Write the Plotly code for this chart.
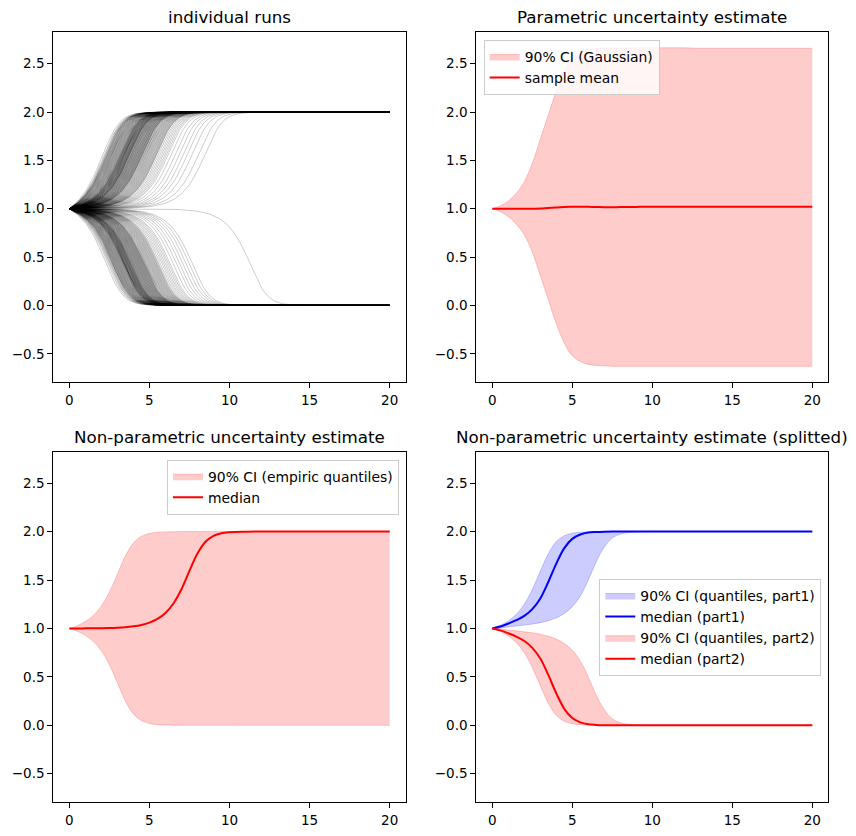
import numpy as np
import plotly.graph_objects as go

# ---------------- data ----------------
# transition times of the individual runs (time at which a run is half-way to its final state)
up_switch = [1.9, 2.0, 2.05, 2.1, 2.12, 2.15, 2.18, 2.2,
             2.22, 2.25, 2.28, 2.3, 2.33, 2.36, 2.38, 2.41, 2.44, 2.47, 2.5, 2.52, 2.55, 2.58, 2.6,
             2.63, 2.66, 2.68, 2.71, 2.74, 2.77, 2.79, 2.82, 2.85, 2.87, 2.9, 2.92, 2.95, 2.97, 3.0,
             3.02, 3.03, 3.05, 3.07, 3.08, 3.1, 3.12, 3.13, 3.15, 3.17, 3.18, 3.2, 3.22, 3.23, 3.25,
             3.27, 3.28, 3.3, 3.32, 3.33, 3.35, 3.37, 3.38, 3.4, 3.42, 3.43, 3.45, 3.47, 3.48, 3.5,
             3.52, 3.53, 3.55, 3.56, 3.57, 3.58, 3.6,
             3.62, 3.64, 3.66, 3.69, 3.71, 3.73, 3.75, 3.77, 3.8, 3.82, 3.84, 3.86, 3.88, 3.91, 3.93,
             3.95, 3.97, 4.0, 4.02, 4.04, 4.06, 4.08, 4.11, 4.13, 4.15, 4.17, 4.2, 4.22, 4.24, 4.26,
             4.28, 4.31, 4.33, 4.35, 4.37, 4.39, 4.4,
             4.44, 4.48, 4.52, 4.56, 4.6, 4.64, 4.68, 4.72, 4.76, 4.8, 4.84, 4.88, 4.92, 4.96, 5.0,
             5.04, 5.08, 5.12, 5.16, 5.2, 5.24, 5.27, 5.3,
             5.4, 5.5, 5.6, 5.7, 5.8, 5.9, 6.0,
             6.2, 6.45, 6.7, 6.95, 7.2, 7.5, 7.9, 8.3]
down_switch = [2.1, 2.2, 2.28, 2.33, 2.38, 2.42, 2.46,
               2.5, 2.52, 2.54, 2.57, 2.59, 2.61, 2.64, 2.66, 2.68, 2.71, 2.73, 2.75, 2.78, 2.8, 2.82,
               2.85, 2.87, 2.89, 2.92, 2.94, 2.96, 2.99, 3.01, 3.03, 3.06, 3.08, 3.1, 3.13, 3.15,
               3.17, 3.18, 3.2, 3.21, 3.23, 3.24, 3.26, 3.27, 3.29, 3.3, 3.32, 3.33, 3.35, 3.36, 3.38,
               3.39, 3.41, 3.42, 3.44, 3.45, 3.47, 3.48, 3.5, 3.51, 3.53, 3.54, 3.56, 3.57, 3.59, 3.6,
               3.62, 3.63, 3.65, 3.66, 3.68, 3.7,
               3.72, 3.74, 3.77, 3.79, 3.81, 3.83, 3.86, 3.88, 3.9, 3.92, 3.95, 3.97, 3.99, 4.01, 4.04,
               4.06, 4.08, 4.1, 4.13, 4.15, 4.17, 4.19, 4.22, 4.24, 4.26, 4.28, 4.31, 4.33, 4.35, 4.37,
               4.4, 4.42, 4.44, 4.46, 4.48, 4.5,
               4.54, 4.58, 4.62, 4.66, 4.7, 4.74, 4.78, 4.82, 4.86, 4.9, 4.94, 4.98, 5.02, 5.06, 5.1,
               5.14, 5.18, 5.22, 5.26, 5.3, 5.35, 5.4,
               5.5, 5.6, 5.7, 5.8, 5.9, 6.0, 6.1,
               6.3, 6.5, 6.7, 6.9, 7.1, 7.3, 7.5, 11.1]
start_level = 1.0
up_level = 2.0
down_level = 0.0

t_band = [0, 0.5, 1, 1.5, 2, 2.5, 3, 3.5, 4, 4.5, 5, 5.5, 6, 6.5, 7, 7.5, 8, 8.5, 9, 9.5, 10,
          11, 12, 13, 14, 15, 16, 17, 18, 19, 20]

gauss_hi = [1.00, 1.03, 1.08, 1.16, 1.28, 1.47, 1.72, 1.97, 2.22, 2.43, 2.57, 2.63, 2.65, 2.655, 2.66,
            2.66, 2.66, 2.66, 2.665, 2.665, 2.665,
            2.665, 2.665, 2.66, 2.66, 2.66, 2.66, 2.66, 2.66, 2.66, 2.66]
gauss_lo = [1.00, 0.97, 0.92, 0.84, 0.73, 0.55, 0.31, 0.06, -0.19, -0.39, -0.52, -0.58, -0.61, -0.62,
            -0.625, -0.63, -0.63, -0.63, -0.63, -0.63, -0.63,
            -0.63, -0.63, -0.63, -0.63, -0.63, -0.63, -0.63, -0.63, -0.63, -0.63]
gauss_mean = [1.0, 1.0, 1.0, 1.0, 1.0, 1.0, 1.003, 1.008, 1.012, 1.018, 1.02, 1.021, 1.02, 1.018,
              1.016, 1.016, 1.017, 1.018, 1.019, 1.02, 1.02,
              1.02, 1.02, 1.02, 1.02, 1.02, 1.02, 1.02, 1.02, 1.02, 1.02]

np_hi = [1.0, 1.029, 1.071, 1.133, 1.231, 1.374, 1.56, 1.748, 1.882, 1.951, 1.981, 1.993, 1.997,
         1.999, 2.0, 2.0, 2.0, 2.0, 2.0, 2.0, 2.0,
         2.0, 2.0, 2.0, 2.0, 2.0, 2.0, 2.0, 2.0, 2.0, 2.0]
np_lo = [1.0, 0.971, 0.929, 0.867, 0.769, 0.626, 0.44, 0.252, 0.118, 0.049, 0.019, 0.007, 0.003,
         0.001, 0.0, 0.0, 0.0, 0.0, 0.0, 0.0, 0.0,
         0.0, 0.0, 0.0, 0.0, 0.0, 0.0, 0.0, 0.0, 0.0, 0.0]
np_med = [1.0, 1.0, 1.001, 1.002, 1.003, 1.005, 1.008, 1.013, 1.022, 1.036, 1.06, 1.098, 1.16, 1.258,
          1.405, 1.594, 1.773, 1.895, 1.957, 1.984, 1.994,
          1.999, 2.0, 2.0, 2.0, 2.0, 2.0, 2.0, 2.0, 2.0, 2.0]

p1_hi = [1.0, 1.032, 1.078, 1.146, 1.251, 1.402, 1.591, 1.772, 1.896, 1.958, 1.984, 1.994, 1.998,
         1.999, 2.0, 2.0, 2.0, 2.0, 2.0, 2.0, 2.0,
         2.0, 2.0, 2.0, 2.0, 2.0, 2.0, 2.0, 2.0, 2.0, 2.0]
p1_lo = [1.0, 1.005, 1.015, 1.025, 1.035, 1.045, 1.06, 1.08, 1.11, 1.155, 1.225, 1.335, 1.50, 1.69,
         1.84, 1.933, 1.974, 1.99, 1.996, 1.999, 2.0,
         2.0, 2.0, 2.0, 2.0, 2.0, 2.0, 2.0, 2.0, 2.0, 2.0]
p1_med = [1.0, 1.02, 1.05, 1.085, 1.13, 1.20, 1.31, 1.48, 1.67, 1.83, 1.925, 1.97, 1.99, 1.996,
          1.999, 2.0, 2.0, 2.0, 2.0, 2.0, 2.0,
          2.0, 2.0, 2.0, 2.0, 2.0, 2.0, 2.0, 2.0, 2.0, 2.0]

p2_hi = [1.0, 0.995, 0.985, 0.975, 0.965, 0.955, 0.94, 0.92, 0.89, 0.845, 0.775, 0.665, 0.50, 0.31,
         0.16, 0.067, 0.026, 0.01, 0.004, 0.001, 0.0,
         0.0, 0.0, 0.0, 0.0, 0.0, 0.0, 0.0, 0.0, 0.0, 0.0]
p2_lo = [1.0, 0.968, 0.922, 0.854, 0.749, 0.598, 0.409, 0.228, 0.104, 0.042, 0.016, 0.006, 0.002,
         0.001, 0.0, 0.0, 0.0, 0.0, 0.0, 0.0, 0.0,
         0.0, 0.0, 0.0, 0.0, 0.0, 0.0, 0.0, 0.0, 0.0, 0.0]
p2_med = [1.0, 0.98, 0.95, 0.915, 0.87, 0.80, 0.69, 0.52, 0.33, 0.17, 0.075, 0.03, 0.01, 0.004,
          0.001, 0.0, 0.0, 0.0, 0.0, 0.0, 0.0,
          0.0, 0.0, 0.0, 0.0, 0.0, 0.0, 0.0, 0.0, 0.0, 0.0]

titles = ["individual runs", "Parametric uncertainty estimate",
          "Non-parametric uncertainty estimate", "Non-parametric uncertainty estimate (splitted)"]
x_ticks = [0, 5, 10, 15, 20]
y_ticks = [-0.5, 0.0, 0.5, 1.0, 1.5, 2.0, 2.5]

# ---------------- figure ----------------
FONT = "DejaVu Sans"
W, H = 856, 836
t_runs = np.linspace(0, 20, 201)


def run_curve(t_half, final):
    # bistable switching profile starting at start_level
    g = np.exp(t_runs - t_half) / np.sqrt(3.0) * (1.0 - np.exp(-1.5 * t_runs))
    u = g / np.sqrt(1.0 + g * g)
    return start_level + (final - start_level) * u


fig = go.Figure()

RUN_LINE = dict(color="rgba(0,0,0,0.4)", width=0.5)
for th in up_switch:
    fig.add_trace(go.Scatter(x=t_runs, y=run_curve(th, up_level), mode="lines", line=RUN_LINE,
                             showlegend=False, hoverinfo="skip", xaxis="x", yaxis="y"))
for th in down_switch:
    fig.add_trace(go.Scatter(x=t_runs, y=run_curve(th, down_level), mode="lines", line=RUN_LINE,
                             showlegend=False, hoverinfo="skip", xaxis="x", yaxis="y"))

RED_FILL = "rgba(255,0,0,0.2)"
BLUE_FILL = "rgba(0,0,255,0.2)"


def band(lo, hi, fill, name, xa, ya, legend):
    fig.add_trace(go.Scatter(x=t_band, y=lo, mode="lines",
                             line=dict(color=fill, width=1, shape="spline", smoothing=1.0),
                             showlegend=False, hoverinfo="skip", xaxis=xa, yaxis=ya))
    fig.add_trace(go.Scatter(x=t_band, y=hi, mode="lines",
                             line=dict(color=fill, width=1, shape="spline", smoothing=1.0),
                             fill="tonexty", fillcolor=fill, name=name, legend=legend,
                             hoverinfo="skip", xaxis=xa, yaxis=ya))


def line(y, color, name, xa, ya, legend):
    fig.add_trace(go.Scatter(x=t_band, y=y, mode="lines",
                             line=dict(color=color, width=2, shape="spline", smoothing=1.0),
                             name=name, legend=legend, xaxis=xa, yaxis=ya))


band(gauss_lo, gauss_hi, RED_FILL, "90% CI (Gaussian)", "x2", "y2", "legend")
line(gauss_mean, "red", "sample mean", "x2", "y2", "legend")

band(np_lo, np_hi, RED_FILL, "90% CI (empiric quantiles)", "x3", "y3", "legend2")
line(np_med, "red", "median", "x3", "y3", "legend2")

band(p1_lo, p1_hi, BLUE_FILL, "90% CI (quantiles, part1)", "x4", "y4", "legend3")
line(p1_med, "blue", "median (part1)", "x4", "y4", "legend3")
band(p2_lo, p2_hi, RED_FILL, "90% CI (quantiles, part2)", "x4", "y4", "legend3")
line(p2_med, "red", "median (part2)", "x4", "y4", "legend3")

# domains in pixels
Lx = (53.3 / W, 405.7 / W)
Rx = (476.3 / W, 828.3 / W)
Ty = ((H - 382.3) / H, (H - 32.3) / H)
By = ((H - 802.3) / H, (H - 451.7) / H)

tickfont = dict(family=FONT, size=13.5, color="black")
ax_common = dict(showline=True, linecolor="black", linewidth=1, mirror=True, ticks="outside",
                 ticklen=5, tickwidth=1, tickcolor="black", showgrid=False, zeroline=False,
                 tickfont=tickfont, fixedrange=True)

layout = dict(width=W, height=H, margin=dict(l=0, r=0, t=0, b=0),
              paper_bgcolor="white", plot_bgcolor="white",
              font=dict(family=FONT, color="black"))

panels = [("", Lx, Ty), ("2", Rx, Ty), ("3", Lx, By), ("4", Rx, By)]
for k, (s, xd, yd) in enumerate(panels):
    layout["xaxis" + s] = dict(ax_common, domain=list(xd), anchor="y" + s, range=[-1, 21],
                               tickvals=x_ticks)
    layout["yaxis" + s] = dict(ax_common, domain=list(yd), anchor="x" + s, range=[-0.795, 2.825],
                               tickvals=y_ticks, tickformat=".1f")

legend_style = dict(bgcolor="rgba(255,255,255,0.8)", bordercolor="#cccccc", borderwidth=1,
                    font=dict(family=FONT, size=13.9, color="black"), tracegroupgap=0,
                    traceorder="normal")
layout["legend"] = dict(legend_style, x=483.7 / W, y=(H - 40) / H, xanchor="left", yanchor="top")
layout["legend2"] = dict(legend_style, x=399 / W, y=(H - 459.7) / H, xanchor="right", yanchor="top")
layout["legend3"] = dict(legend_style, x=821.3 / W, y=(H - 627.5) / H, xanchor="right", yanchor="middle")

annotations = []
for k, (s, xd, yd) in enumerate(panels):
    annotations.append(dict(text=titles[k], xref="paper", yref="paper", x=(xd[0] + xd[1]) / 2,
                            y=yd[1], xanchor="center", yanchor="bottom", yshift=3, showarrow=False,
                            font=dict(family=FONT, size=16.7, color="black")))
layout["annotations"] = annotations

fig.update_layout(**layout)
fig.write_html("out.html")
